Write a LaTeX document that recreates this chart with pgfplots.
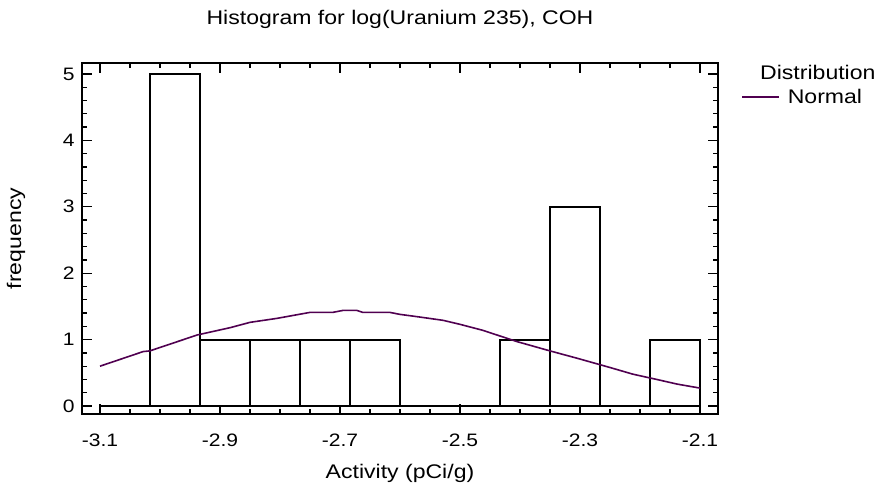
\documentclass[border=0pt]{standalone}
\usepackage{pgfplots}
\pgfplotsset{compat=1.18}
\usepackage{fontspec}
\setmainfont{Liberation Sans}[FakeStretch=1.17]
\definecolor{curvecol}{RGB}{80,0,80}
\newcommand\ff{\fontsize{19.7bp}{23bp}\selectfont}
\newcommand\kf{\fontsize{18bp}{21bp}\selectfont}

% histogram counts per class (12 classes from -3.1 to -2.1)
\pgfplotstableread{
x        n
-3.1     0
-3.01667 5
-2.93333 1
-2.85    1
-2.76667 1
-2.68333 1
-2.6     0
-2.51667 0
-2.43333 1
-2.35    3
-2.26667 0
-2.18333 1
-2.1     0
}\histdata

\begin{document}
\begin{tikzpicture}
\useasboundingbox (-82bp,-73bp) rectangle (798bp,414bp);
\begin{axis}[
    scale only axis,
    width=636bp, height=351bp,
    xmin=-3.13, xmax=-2.07,
    ymin=-0.12, ymax=5.165,
    xtick={-3.1,-2.9,-2.7,-2.5,-2.3,-2.1},
    xticklabels={-3.1,-2.9,-2.7,-2.5,-2.3,-2.1},
    ytick={0,1,2,3,4,5},
    yticklabels={0,1,2,3,4,5},
    minor x tick num=3,
    minor y tick num=4,
    tick align=inside,
    major tick length=10bp,
    minor tick length=5bp,
    every tick/.style={black, line width=1.3bp},
    axis line style={line width=2bp},
    tick label style={font=\kf},
    yticklabel style={xshift=-4bp},
    xticklabel style={anchor=base, yshift=-32bp},
    title={Histogram for log(Uranium 235), COH},
    title style={font=\ff, at={(axis description cs:0.5,1.094)}, anchor=base},
    xlabel={Activity (pCi/g)},
    xlabel style={font=\ff, at={(axis description cs:0.5,-0.185)}, anchor=base},
    ylabel={frequency},
    ylabel style={font=\ff, at={(axis description cs:-0.0959,0.5)}, anchor=base, rotate=0},
    legend style={at={(axis description cs:1.0362,0.9030)}, anchor=west,
        draw=none, fill=none, inner sep=0pt, font=\ff},
    legend image code/.code={\draw[#1] (0bp,0bp) -- (37bp,0bp); \path (43bp,0bp);},
]
\addplot[ybar interval, draw=black, fill=white, line width=1.8bp, forget plot]
    table[x=x, y=n] {\histdata};
\addplot[curvecol, line width=1.6bp] coordinates {
    (-3.1,0.60) (-3.028,0.82) (-3.017,0.83) (-2.938,1.07) (-2.883,1.18)
    (-2.85,1.26) (-2.805,1.32) (-2.75,1.41) (-2.712,1.41) (-2.695,1.44)
    (-2.672,1.44) (-2.662,1.41) (-2.617,1.41) (-2.6,1.38) (-2.567,1.34)
    (-2.528,1.29) (-2.5,1.23) (-2.462,1.14) (-2.405,0.97) (-2.35,0.83)
    (-2.305,0.72) (-2.25,0.58) (-2.212,0.48) (-2.172,0.40) (-2.138,0.33)
    (-2.1,0.27)
};
\addlegendentry{Normal}
\end{axis}
\node[anchor=base west, font=\ff, inner sep=0pt] at (678bp,334bp) {Distribution};
\end{tikzpicture}
\end{document}
